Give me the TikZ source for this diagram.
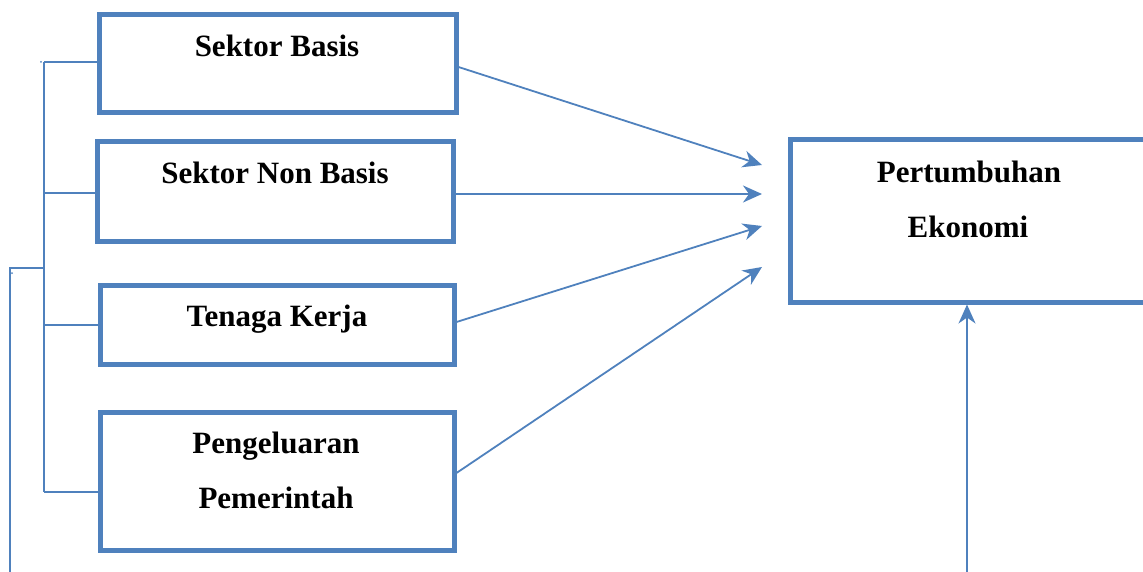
\documentclass[tikz,border=0pt]{standalone}
\usepackage{fontspec}
\setmainfont{Liberation Serif}
\usetikzlibrary{arrows.meta}
\definecolor{ob}{HTML}{4F81BD}
\begin{document}
\begin{tikzpicture}[x=1pt,y=-1pt,
  boxs/.style={draw=ob,line width=5pt,rectangle,inner sep=0pt},
  lbl/.style={anchor=base,inner sep=0pt,font=\fontsize{31}{36}\selectfont\bfseries},
  conn/.style={draw=ob,line width=1.8pt,-{Stealth[length=19pt,width=17pt,inset=6pt]}},
  brk/.style={draw=ob,line width=1.6pt}]
\useasboundingbox (0,0) rectangle (1143,572);
% boxes
\node[boxs,minimum width=357pt,minimum height=98pt] (b1) at (277.5,64) {};
\node[boxs,minimum width=356pt,minimum height=99pt] (b2) at (275,191.5) {};
\node[boxs,minimum width=354pt,minimum height=79pt] (b3) at (277,324.5) {};
\node[boxs,minimum width=354pt,minimum height=138pt] (b4) at (277,481) {};
\node[boxs,minimum width=400pt,minimum height=162pt] (pe) at (990,221) {};
% labels
\node[lbl] (t1) at (277,57) {Sektor Basis};
\node[lbl] (t2) at (275,184) {Sektor Non Basis};
\node[lbl] (t3) at (277,326) {Tenaga Kerja};
\node[lbl] (t4a) at (276,453) {Pengeluaran};
\node[lbl] (t4b) at (276,508) {Pemerintah};
\node[lbl] (t5a) at (969,183) {Pertumbuhan};
\node[lbl] (t5b) at (968,237) {Ekonomi};
% bracket
\coordinate (v1) at (44,62);
\coordinate (v2) at (44,193);
\coordinate (v3) at (44,325);
\coordinate (v4) at (44,492);
\coordinate (vm) at (44,268);
\coordinate (w1) at (10,268);
\coordinate (w2) at (10,572);
\draw[brk] (v1) -- (v4);
\draw[brk] (v1) -- (b1.west |- v1);
\draw[brk] (v2) -- (b2.west |- v2);
\draw[brk] (v3) -- (b3.west |- v3);
\draw[brk] (v4) -- (b4.west |- v4);
\draw[brk] (vm) -- (w1) -- (w2);
\fill[ob] (41,62) circle (1pt);
\fill[ob] (12,273) circle (1pt);
% arrows
\coordinate (a1) at (762,165);
\coordinate (a2) at (762,194);
\coordinate (a3) at (762,226);
\coordinate (a4) at (762,267);
\coordinate (bot) at (967,572);
\draw[conn] (b1.east |- 0,67) -- (a1);
\draw[conn] (b2.east |- 0,194) -- (a2);
\draw[conn] (b3.east |- 0,322) -- (a3);
\draw[conn] (b4.east |- 0,473) -- (a4);
\draw[conn] (bot) -- (bot |- pe.south);
\end{tikzpicture}
\end{document}
